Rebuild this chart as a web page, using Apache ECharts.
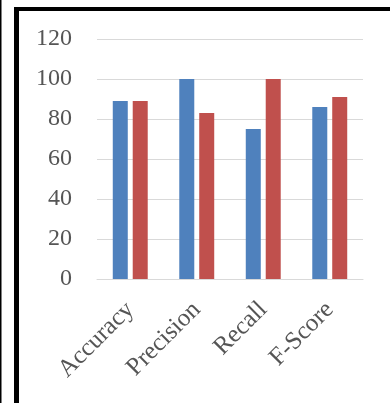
<!DOCTYPE html>
<html>
<head>
<meta charset="utf-8">
<script src="https://cdn.jsdelivr.net/npm/echarts@6/dist/echarts.min.js"></script>
<style>
html,body{margin:0;padding:0;background:#fff;}
#chart{width:390px;height:403px;}
</style>
</head>
<body>
<div id="chart"></div>
<script>
var categories = ['Accuracy', 'Precision', 'Recall', 'F-Score'];
var seriesA = [89, 100, 75, 86];
var seriesB = [89, 83, 100, 91];
var yTicks = { min: 0, max: 120, interval: 20 };

var chart = echarts.init(document.getElementById('chart'), null, { renderer: 'canvas' });
var font = '"Liberation Serif", "Times New Roman", serif';
chart.setOption({
  animation: false,
  backgroundColor: '#ffffff',
  grid: { left: 97, right: 27, top: 39, bottom: 124, containLabel: false },
  xAxis: {
    type: 'category',
    data: categories,
    axisLine: { show: true, lineStyle: { color: '#D9D9D9', width: 1 } },
    axisTick: { show: false },
    axisLabel: { rotate: 45, color: '#555555', fontFamily: font, fontSize: 25, margin: 27, interval: 0 }
  },
  yAxis: {
    type: 'value',
    min: yTicks.min, max: yTicks.max, interval: yTicks.interval,
    axisLine: { show: false },
    axisTick: { show: false },
    splitLine: { lineStyle: { color: '#D9D9D9', width: 1 } },
    axisLabel: { color: '#555555', fontFamily: font, fontSize: 24, margin: 25 }
  },
  series: [
    { type: 'bar', data: seriesA, barWidth: 15, barGap: '33%', itemStyle: { color: '#4F81BD' } },
    { type: 'bar', data: seriesB, barWidth: 15, barGap: '33%', itemStyle: { color: '#C0504D' } }
  ],
  graphic: [
    { type: 'rect', shape: { x: 0, y: 0, width: 1.5, height: 403 }, style: { fill: '#000' } },
    { type: 'rect', shape: { x: 14, y: 7, width: 5, height: 396 }, style: { fill: '#000' } },
    { type: 'rect', shape: { x: 14, y: 7, width: 376, height: 4 }, style: { fill: '#000' } }
  ]
});
</script>
</body>
</html>
